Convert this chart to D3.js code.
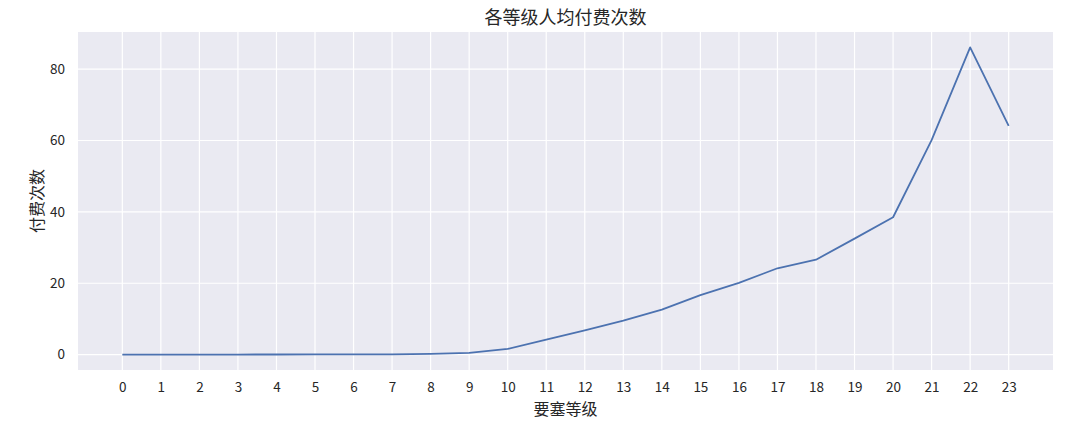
<!DOCTYPE html>
<html>
<head>
<meta charset="utf-8">
<script src="https://cdn.jsdelivr.net/npm/d3@7"></script>
<style>
  body { margin: 0; background: #fff; }
  text { font-family: "Noto Sans CJK SC", "DejaVu Sans", sans-serif; fill: #262626; }
</style>
</head>
<body>
<svg id="chart" width="1086" height="426"></svg>
<script>
const levels = d3.range(0, 24);
const payCounts = [0.01, 0.01, 0.02, 0.03, 0.04, 0.05, 0.07, 0.1, 0.2, 0.5, 1.6, 4.2,
  6.8, 9.5, 12.6, 16.7, 20.1, 24.2, 26.6, 32.5, 38.5, 60.1, 86.1, 64.1];
const yTicks = [0, 20, 40, 60, 80];

const width = 1086, height = 426;
const margin = { top: 32, right: 33, bottom: 56, left: 78 };
const svg = d3.select("#chart");

const data = levels.map((l, i) => ({ level: l, value: payCounts[i] }));

const xPad = (d3.max(levels) - d3.min(levels)) * 0.05;
const xScale = d3.scaleLinear()
  .domain([d3.min(levels) - xPad, d3.max(levels) + xPad])
  .range([margin.left, width - margin.right]);
const yMin = 0, yMax = d3.max(payCounts);
const yPad = (yMax - yMin) * 0.05;
const yScale = d3.scaleLinear()
  .domain([yMin - yPad, yMax + yPad])
  .range([height - margin.bottom, margin.top]);

svg.append("rect")
  .attr("x", margin.left)
  .attr("y", margin.top)
  .attr("width", width - margin.left - margin.right)
  .attr("height", height - margin.top - margin.bottom)
  .attr("fill", "#eaeaf2");

// grid
svg.append("g")
  .selectAll("line")
  .data(levels)
  .join("line")
  .attr("x1", d => xScale(d)).attr("x2", d => xScale(d))
  .attr("y1", margin.top).attr("y2", height - margin.bottom)
  .attr("stroke", "#fff").attr("stroke-width", 1.2);
svg.append("g")
  .selectAll("line")
  .data(yTicks)
  .join("line")
  .attr("x1", margin.left).attr("x2", width - margin.right)
  .attr("y1", d => yScale(d)).attr("y2", d => yScale(d))
  .attr("stroke", "#fff").attr("stroke-width", 1.2);

// axes
const xAxis = svg.append("g")
  .attr("transform", `translate(0,${height - margin.bottom})`)
  .call(d3.axisBottom(xScale).tickValues(levels).tickFormat(d3.format("d")).tickSize(0).tickPadding(12));
const yAxis = svg.append("g")
  .attr("transform", `translate(${margin.left},0)`)
  .call(d3.axisLeft(yScale).tickValues(yTicks).tickSize(0).tickPadding(13));
[xAxis, yAxis].forEach(a => {
  a.select(".domain").remove();
  a.selectAll("text").style("font-size", "13.5px").attr("fill", "#262626");
});

// line
svg.append("path")
  .datum(data)
  .attr("fill", "none")
  .attr("stroke", "#4c72b0")
  .attr("stroke-width", 1.8)
  .attr("stroke-linejoin", "round")
  .attr("d", d3.line().x(d => xScale(d.level)).y(d => yScale(d.value)));

// labels
svg.append("text")
  .attr("x", (margin.left + width - margin.right) / 2)
  .attr("y", 24)
  .attr("text-anchor", "middle")
  .style("font-size", "18px")
  .text("各等级人均付费次数");
svg.append("text")
  .attr("x", (margin.left + width - margin.right) / 2)
  .attr("y", 415)
  .attr("text-anchor", "middle")
  .style("font-size", "16px")
  .text("要塞等级");
svg.append("text")
  .attr("transform", "rotate(-90)")
  .attr("x", -(margin.top + height - margin.bottom) / 2)
  .attr("y", 43)
  .attr("text-anchor", "middle")
  .style("font-size", "16px")
  .text("付费次数");
</script>
</body>
</html>
